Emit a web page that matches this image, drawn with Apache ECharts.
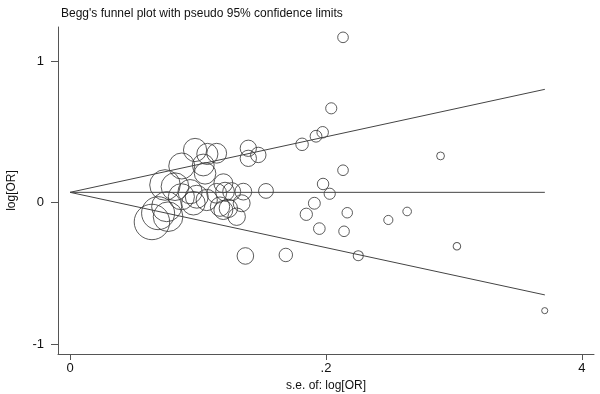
<!DOCTYPE html>
<html>
<head>
<meta charset="utf-8">
<script src="https://cdn.jsdelivr.net/npm/echarts@6/dist/echarts.min.js"></script>
<style>
  html, body { margin: 0; padding: 0; background: #fff; }
  #chart { width: 600px; height: 394px; }
</style>
</head>
<body>
<div id="chart"></div>
<script>
// study points: standard error and log odds ratio
const studySE = [
    0.2133, 0.2041, 0.1974, 0.1922, 0.1813, 0.2133, 0.2895, 0.1531, 0.1977, 0.2029,
    0.1909, 0.1846, 0.2166, 0.2634, 0.2487, 0.1948, 0.2141, 0.1686, 0.2252, 0.3023,
    0.3709, 0.1370,
    0.0977, 0.1073, 0.1146, 0.1393, 0.1393, 0.1471, 0.0873, 0.1041, 0.1055, 0.0742,
    0.0820, 0.1198, 0.1211, 0.1146, 0.1263, 0.1354, 0.0938, 0.0990, 0.0688, 0.0640,
    0.0755, 0.0964, 0.1068, 0.1172, 0.1237, 0.1302, 0.1341, 0.0766, 0.0870, 0.1198
];
const studyLogOR = [
    1.167, 0.666, 0.497, 0.469, 0.412, 0.229, 0.330, 0.083, 0.132, 0.063,
    -0.004, -0.082, -0.071, -0.062, -0.122, -0.183, -0.202, -0.369, -0.374, -0.308,
    -0.762, -0.376,
    0.372, 0.344, 0.349, 0.384, 0.313, 0.337, 0.259, 0.266, 0.207, 0.125,
    0.113, 0.137, 0.078, 0.066, 0.078, 0.078, 0.078, 0.042, -0.074, -0.136,
    -0.028, -0.004, 0.019, -0.028, -0.040, -0.099, -0.004, -0.099, 0.042, -0.052
];

// pooled estimate and pseudo 95% limits (ends of the lines)
const limitSE = [0, 0.371];
const pooledLine = [0.073, 0.073];
const upperLine = [0.073, 0.800];
const lowerLine = [0.073, -0.651];

// tick labels
const xTicks = [0, 0.2, 0.4];
const xTickLabels = ['0', '.2', '4'];
const yTicks = [-1, 0, 1];
const yTickLabels = ['-1', '0', '1'];

const font = 'Liberation Sans, Arial, sans-serif';
const axisGray = '#555';

const chart = echarts.init(document.getElementById('chart'));

const points = studySE.map((se, i) => [se, studyLogOR[i]]);
const lineData = arr => limitSE.map((se, i) => [se, arr[i]]);

const lineStyle = { color: '#444', width: 1 };

chart.setOption({
    animation: false,
    title: {
        text: "Begg's funnel plot with pseudo 95% confidence limits",
        left: 56, top: 3,
        textStyle: { fontFamily: font, fontSize: 12, fontWeight: 'normal', color: '#111' }
    },
    grid: { left: 58, right: 6, top: 27, bottom: 40, outerBoundsMode: 'none' },
    xAxis: {
        type: 'value',
        min: -0.0094, max: 0.4094,
        name: 's.e. of: log[OR]',
        nameLocation: 'middle',
        nameGap: 25,
        nameTextStyle: { fontFamily: font, fontSize: 12, color: '#111' },
        axisLine: { show: true, onZero: false, lineStyle: { color: axisGray, width: 1 } },
        axisTick: { show: true, length: 6, customValues: xTicks, lineStyle: { color: axisGray } },
        axisLabel: {
            customValues: xTicks, margin: 8,
            fontFamily: font, fontSize: 13, color: '#111',
            formatter: v => xTickLabels[xTicks.indexOf(v)] ?? ''
        },
        splitLine: { show: false }
    },
    yAxis: {
        type: 'value',
        min: -1.068, max: 1.240,
        name: 'log[OR]',
        nameLocation: 'middle',
        nameGap: 40,
        nameTextStyle: { fontFamily: font, fontSize: 12, color: '#111' },
        axisLine: { show: true, onZero: false, lineStyle: { color: axisGray, width: 1 } },
        axisTick: { show: true, length: 7, customValues: yTicks, lineStyle: { color: axisGray } },
        axisLabel: {
            customValues: yTicks, margin: 14,
            fontFamily: font, fontSize: 13, color: '#111',
            formatter: v => yTickLabels[yTicks.indexOf(v)] ?? ''
        },
        splitLine: { show: false }
    },
    series: [
        { type: 'line', data: lineData(pooledLine), showSymbol: false, lineStyle, silent: true },
        { type: 'line', data: lineData(upperLine), showSymbol: false, lineStyle, silent: true },
        { type: 'line', data: lineData(lowerLine), showSymbol: false, lineStyle, silent: true },
        {
            type: 'scatter',
            data: points,
            symbol: 'circle',
            // marker area proportional to 1/se^2
            symbolSize: v => 2.27 / v[0],
            itemStyle: { color: 'rgba(0,0,0,0)', borderColor: '#333', borderWidth: 1 }
        }
    ]
});
</script>
</body>
</html>
